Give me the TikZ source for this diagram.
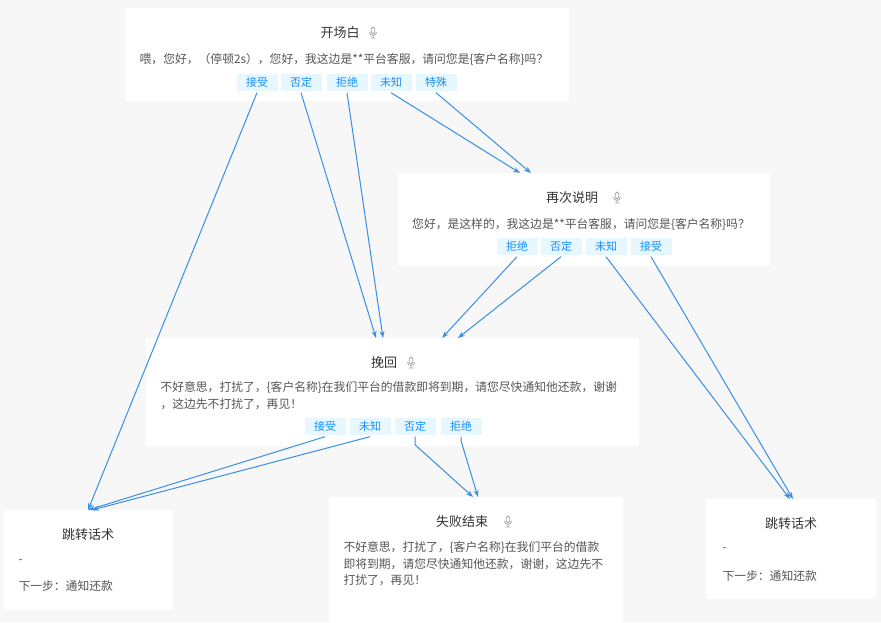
\documentclass[tikz,border=0pt]{standalone}
\usepackage{fontspec}
\setmainfont{Noto Sans CJK SC}
\usetikzlibrary{arrows.meta}
\definecolor{bg}{HTML}{F7F7F7}
\definecolor{tagbg}{HTML}{E6F7FF}
\definecolor{tagfg}{HTML}{1890FF}
\definecolor{edge}{HTML}{3A8EE6}
\definecolor{txt}{HTML}{555555}
\definecolor{ttl}{HTML}{333333}
\tikzset{
  card/.style={fill=white, inner sep=0pt, anchor=north west},
  tag/.style={fill=tagbg, text=tagfg, font=\fontsize{11}{13}\selectfont, minimum width=41pt, minimum height=17pt, inner sep=0pt},
  title/.style={text=ttl, font=\fontsize{13}{15}\selectfont},
  body/.style={text=txt, font=\fontsize{11.8}{16.5}\selectfont, align=left},
  link/.style={edge, line width=1pt, -{Stealth[length=7pt,width=5pt]}},
  mic/.pic={
    \draw[gray!70, line width=0.8pt, rounded corners=1.8pt] (-1.8,-6) rectangle (1.8,1);
    \draw[gray!70, line width=0.8pt] (-3.5,-1) arc (180:0:3.5) (0,2.5) -- (0,5) (-2.5,5) -- (2.5,5);
  }
}
\begin{document}
\begin{tikzpicture}[x=1pt, y=-1pt]
  \fill[bg] (0,0) rectangle (881,622);
  \useasboundingbox (0,0) rectangle (881,622);

  % cards
  \node[card, minimum width=444pt, minimum height=93pt] (open) at (125,8) {};
  \node[card, minimum width=372pt, minimum height=93pt] (again) at (398,173) {};
  \node[card, minimum width=493pt, minimum height=108pt] (save) at (146,338) {};
  \node[card, minimum width=169pt, minimum height=100pt] (jumpL) at (4,510) {};
  \node[card, minimum width=294pt, minimum height=125pt] (fail) at (329,497) {};
  \node[card, minimum width=170pt, minimum height=100pt] (jumpR) at (706,499) {};

  % 开场白
  \node[title] (openT) at (340,33) {开场白};
  \pic at (373,33) {mic};
  \node[body] (openB) at (344,59) {喂，您好，（停顿2s），您好，我这边是**平台客服，请问您是\{客户名称\}吗？};
  \node[tag] (o1) at (257,82) {接受};
  \node[tag] (o2) at (301,82) {否定};
  \node[tag] (o3) at (347,82) {拒绝};
  \node[tag] (o4) at (391,82) {未知};
  \node[tag] (o5) at (436,82) {特殊};

  % 再次说明
  \node[title] (againT) at (572,198) {再次说明};
  \pic at (617,198) {mic};
  \node[body] (againB) at (581,224) {您好，是这样的，我这边是**平台客服，请问您是\{客户名称\}吗？};
  \node[tag] (a1) at (517,246) {拒绝};
  \node[tag] (a2) at (561,246) {否定};
  \node[tag] (a3) at (606,246) {未知};
  \node[tag] (a4) at (651,246) {接受};

  % 挽回
  \node[title] (saveT) at (384,363) {挽回};
  \pic at (411,363) {mic};
  \node[body, anchor=north west] (saveB) at (157,378) {不好意思，打扰了，\{客户名称\}在我们平台的借款即将到期，请您尽快通知他还款，谢谢\\，这边先不打扰了，再见！};
  \node[tag] (s1) at (325,426) {接受};
  \node[tag] (s2) at (370,426) {未知};
  \node[tag] (s3) at (415,426) {否定};
  \node[tag] (s4) at (461,426) {拒绝};

  % 跳转话术 / 失败结束
  \node[title] (jumpLT) at (88,535) {跳转话术};
  \node[body, anchor=west] (jumpLD) at (15,562) {-};
  \node[body, anchor=west] (jumpLB) at (15,586) {下一步：通知还款};
  \node[title] (failT) at (462,522) {失败结束};
  \pic at (508,522) {mic};
  \node[body, anchor=north west] (failB) at (340,538) {不好意思，打扰了，\{客户名称\}在我们平台的借款\\即将到期，请您尽快通知他还款，谢谢，这边先不\\打扰了，再见！};
  \node[title] (jumpRT) at (791,524) {跳转话术};
  \node[body, anchor=west] (jumpRD) at (719,550) {-};
  \node[body, anchor=west] (jumpRB) at (719,576) {下一步：通知还款};

  % links
  \coordinate (inL1) at (88,510);
  \coordinate (inL2) at (92,510);
  \draw[link] (o1.south) ++(0,2) -- (inL1);
  \draw[link] (o2.south) ++(0,2) -- (376,338);
  \draw[link] (o3.south) ++(0,2) -- (383,338);
  \draw[link] (o4.south) ++(0,2) -- (520,173);
  \draw[link] (o5.south) ++(0,2) -- (531,173);
  \draw[link] (a1.south) ++(0,2) -- (442,338);
  \draw[link] (a2.south) ++(0,2) -- (458,338);
  \draw[link] (a3.south) ++(0,2) -- (790,499);
  \draw[link] (a4.south) ++(0,2) -- (793,499);
  \draw[link] (s1.south) ++(0,2) -- (inL1);
  \draw[link] (s2.south) ++(0,2) -- (inL2);
  \draw[link] (s3.south) ++(0,2) -- ++(0,8) -- (473,497);
  \draw[link] (s4.south) ++(0,2) -- ++(0,4) -- (478,497);
\end{tikzpicture}
\end{document}
